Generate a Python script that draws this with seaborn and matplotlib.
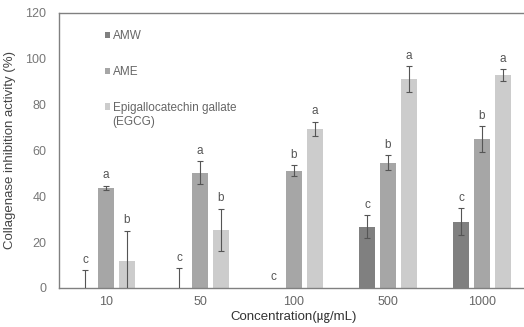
import numpy as np
import pandas as pd
import matplotlib
matplotlib.use("Agg")
import matplotlib.pyplot as plt
import seaborn as sns

# Collagenase inhibition data
concentrations = ["10", "50", "100", "500", "1000"]
series = ["AMW", "AME", "Epigallocatechin gallate"]
series_note = "(EGCG)"
amw_mean = [0.0, 0.0, 0.0, 26.8, 28.9]
amw_sd = [7.7, 8.6, np.nan, 4.9, 5.8]
ame_mean = [43.6, 50.3, 51.2, 54.7, 64.9]
ame_sd = [1.0, 5.0, 2.4, 3.2, 5.6]
egcg_mean = [11.9, 25.3, 69.4, 91.1, 92.9]
egcg_sd = [13.0, 9.3, 3.0, 5.7, 2.6]
amw_letters = ["c", "c", "c", "c", "c"]
ame_letters = ["a", "a", "b", "b", "b"]
egcg_letters = ["b", "b", "a", "a", "a"]

means = [amw_mean, ame_mean, egcg_mean]
sds = [amw_sd, ame_sd, egcg_sd]
letters = [amw_letters, ame_letters, egcg_letters]
colors = ["#808080", "#a6a6a6", "#cccccc"]

df = pd.DataFrame({
    "conc": np.tile(concentrations, len(series)),
    "sample": np.repeat(series, len(concentrations)),
    "value": np.concatenate(means),
})

sns.set_theme(style="white")
plt.rcParams["font.family"] = ["Liberation Sans", "Noto Sans CJK KR", "DejaVu Sans"]

fig = plt.figure(figsize=(5.24, 3.27), dpi=100)
ax = fig.add_axes([0.1126, 0.1193, 0.897, 0.8410])

sns.barplot(data=df, x="conc", y="value", hue="sample", order=concentrations,
            hue_order=series, palette=colors, width=0.67, gap=0.24,
            errorbar=None, saturation=1, linewidth=0, ax=ax, legend=True)

err_color = "#555555"
for cont, m, s, lab in zip(ax.containers, means, sds, letters):
    xs = [p.get_x() + p.get_width() / 2 for p in cont.patches]
    ax.errorbar(xs, m, yerr=s, fmt="none", ecolor=err_color, elinewidth=0.8,
                capsize=2.2, capthick=0.8, zorder=3)
    for x, v, e, t in zip(xs, m, s, lab):
        top = v + (0 if np.isnan(e) else e)
        ax.text(x, top + 2.0, t, ha="center", va="bottom", fontsize=8.5,
                color="#555555")

ax.set_xlim(-0.5, 4.5)
ax.set_ylim(0, 120)
ax.set_yticks(np.arange(0, 121, 20))
ax.set_xticks(np.arange(-0.5, 4.6, 1.0), minor=True)
ax.tick_params(axis="x", which="major", length=0, pad=6, labelsize=9,
               labelcolor="#666666")
ax.tick_params(axis="x", which="minor", direction="in", length=3.5,
               width=0.8, color="#808080")
ax.tick_params(axis="y", length=0, pad=9, labelsize=9, labelcolor="#777777")

for side in ["left", "top", "bottom", "right"]:
    ax.spines[side].set_color("#808080")
    ax.spines[side].set_linewidth(1.0)

ax.set_xlabel("Concentration(㎍/mL)", fontsize=9.5, color="#333333", labelpad=2)
ax.set_ylabel("Collagenase inhibition activity (%)", fontsize=9.5,
              color="#444444", labelpad=7)

leg = ax.legend(loc="upper left", bbox_to_anchor=(0.085, 0.958), frameon=False,
                fontsize=8.5, handlelength=0.45, handleheight=0.45,
                handletextpad=0.2, labelspacing=2.0, borderpad=0)
for t in leg.get_texts():
    t.set_color("#666666")
for h in leg.legend_handles:
    h.set_linewidth(0)

# second line of the last legend entry, placed under its label
ax.annotate(series_note, xy=(0, 0), xycoords=leg.get_texts()[-1],
            xytext=(0, -1.5), textcoords="offset points", ha="left", va="top",
            fontsize=8.5, color="#666666", zorder=10)

fig.savefig("out.png", dpi=100)
